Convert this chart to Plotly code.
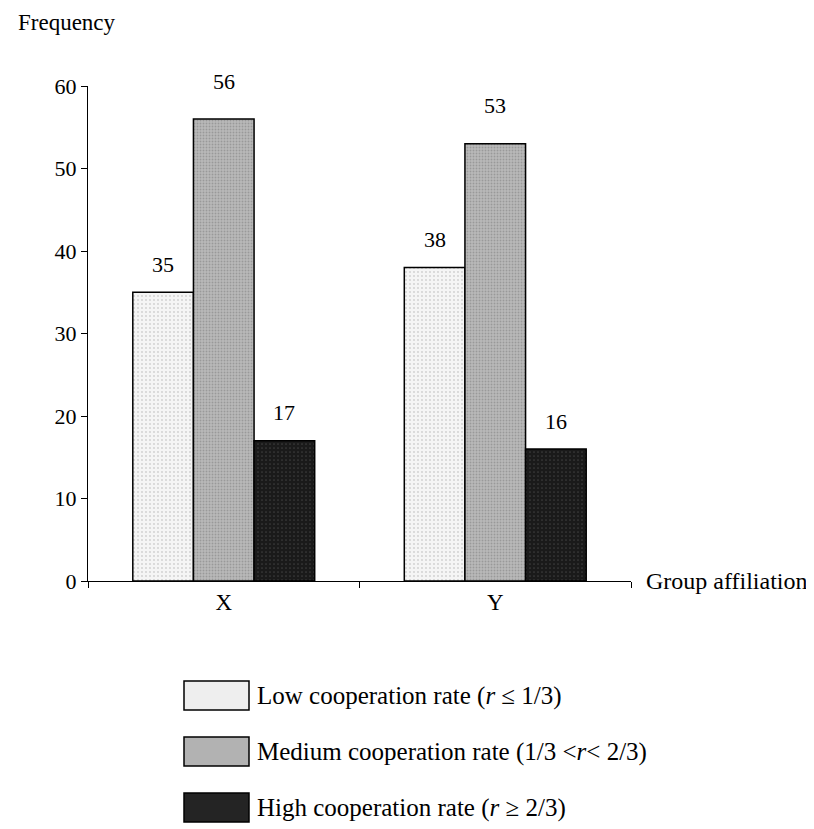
import plotly.graph_objects as go

categories = ["X", "Y"]
low_values = [35, 38]
medium_values = [56, 53]
high_values = [17, 16]
series_names = [
    "Low cooperation rate (<i>r</i> ≤ 1/3)",
    "Medium cooperation rate (1/3 &lt;<i>r</i>&lt; 2/3)",
    "High cooperation rate (<i>r</i> ≥ 2/3)",
]
y_ticks = [0, 10, 20, 30, 40, 50, 60]

FONT = "Liberation Serif, Times New Roman, serif"
OFF = 8  # page body margin
W, H = 814 - OFF, 829 - OFF
# page-pixel plot area: x 88..631, y 86..581
ML, MT = 88 - OFF, 86 - OFF
PW, PH = 631 - 88, 581 - 86
MR = W - ML - PW
MB = H - MT - PH

styles = [
    dict(color="#f5f5f5", fg="#a8a8a8", size=4, sol=0.16, swatch="#eeeeee"),
    dict(color="#b9b9b9", fg="#7a7a7a", size=3, sol=0.3, swatch="#b2b2b2"),
    dict(color="#1a1a1a", fg="#606060", size=4, sol=0.15, swatch="#242424"),
]
all_values = [low_values, medium_values, high_values]

fig = go.Figure()
for name, vals, st in zip(series_names, all_values, styles):
    fig.add_trace(go.Bar(
        x=categories, y=vals, name=name,
        marker=dict(color=st["color"],
                    line=dict(color="black", width=1.5),
                    pattern=dict(shape=".", fgcolor=st["fg"], size=st["size"], solidity=st["sol"])),
        showlegend=False,
    ))

bargap = 0.33
cat_px = PW / len(categories)
bar_px = cat_px * (1 - bargap) / 3
annotations = []
yshifts = [28, 38, 28]
for i, vals in enumerate(all_values):
    for c, v in zip(categories, vals):
        annotations.append(dict(
            x=c, y=v, xref="x", yref="y", text=str(v), showarrow=False,
            xshift=(i - 1) * bar_px, yshift=yshifts[i], yanchor="middle",
            font=dict(family=FONT, size=22, color="black")))

def px_x(p):
    return (p - 88) / PW

def px_y(p):
    return (581 - p) / PH

annotations.append(dict(x=px_x(16), y=px_y(22), xref="paper", yref="paper", text="Frequency",
                        showarrow=False, xanchor="left", yanchor="middle",
                        font=dict(family=FONT, size=23, color="black")))
annotations.append(dict(x=px_x(644), y=0, xref="paper", yref="paper", text="Group affiliation",
                        showarrow=False, xanchor="left", yanchor="middle",
                        font=dict(family=FONT, size=24, color="black")))

shapes = []
box_tops = [681, 737, 793]
for name, st, top in zip(series_names, styles, box_tops):
    shapes.append(dict(type="rect", xref="paper", yref="paper",
                       x0=px_x(184), x1=px_x(249), y0=px_y(top), y1=px_y(top + 29),
                       fillcolor=st["swatch"], line=dict(color="black", width=1.5)))
    annotations.append(dict(x=px_x(255), y=px_y(top + 15), xref="paper", yref="paper",
                            text=name, showarrow=False, xanchor="left", yanchor="middle",
                            font=dict(family=FONT, size=25, color="black")))

fig.update_layout(
    width=W, height=H,
    margin=dict(l=ML, r=MR, t=MT, b=MB, autoexpand=False),
    paper_bgcolor="white", plot_bgcolor="white",
    barmode="group", bargap=bargap, bargroupgap=0,
    annotations=annotations, shapes=shapes,
    font=dict(family=FONT, size=22, color="black"),
    xaxis=dict(showline=True, linecolor="black", linewidth=1, ticks="outside",
               tickson="boundaries", ticklen=6, tickcolor="black", showgrid=False,
               tickfont=dict(family=FONT, size=23, color="black")),
    yaxis=dict(range=[0, 60], tickvals=y_ticks, showline=True, linecolor="black", linewidth=1,
               ticks="outside", ticklen=6, tickcolor="black", showgrid=False, zeroline=False,
               tickfont=dict(family=FONT, size=22, color="black")),
)

fig.write_html("out.html")
